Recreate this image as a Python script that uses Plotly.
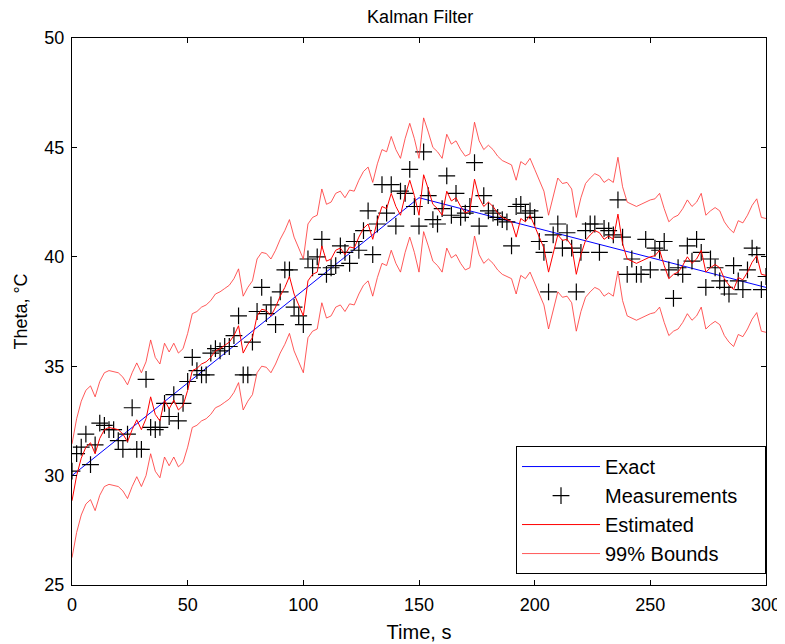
import plotly.graph_objects as go

# =========================
# Data
# =========================
time_s = list(range(0, 301, 2))

exact_t = [0, 150, 300]
exact_theta = [30.0, 42.7, 38.6]

measured = [
    30.2, 31.0, 31.3, 31.9, 30.5, 31.4, 32.4, 32.3, 32.1, 32.1,
    31.6, 31.2, 31.9, 33.1, 31.2, 31.2, 34.4, 32.2, 32.1, 32.2,
    33.3, 32.7, 33.7, 32.5, 33.3, 34.3, 35.4, 34.8, 34.6, 34.6,
    35.6, 35.8, 35.7, 35.9, 35.9, 36.4, 37.3, 34.6, 34.6, 36.1,
    37.5, 38.6, 37.4, 37.8, 36.9, 38.4, 39.4, 39.4, 37.7, 37.3,
    36.9, 39.9, 39.5, 40.0, 40.8, 39.2, 39.5, 39.6, 40.5, 40.2,
    39.7, 40.7, 40.3, 41.2, 42.1, 40.1, 41.5, 43.3, 42.0, 43.3,
    41.4, 43.0, 42.9, 44.0, 42.3, 41.4, 44.8, 42.8, 41.7, 41.5,
    42.2, 43.7, 41.9, 42.9, 41.8, 42.0, 42.3, 44.3, 41.4, 42.8,
    42.1, 42.0, 41.8, 41.7, 41.6, 40.5, 42.3, 42.4, 42.0, 42.1,
    41.8, 40.7, 40.2, 38.4, 41.0, 41.5, 40.4, 41.1, 40.4, 38.4,
    40.2, 41.2, 41.5, 41.5, 40.2, 41.3, 41.2, 41.0, 42.6, 40.9,
    39.2, 39.9, 39.2, 39.2, 40.8, 39.4, 40.4, 40.3, 40.7, 39.4,
    38.1, 39.5, 39.2, 40.5, 39.8, 40.8, 40.2, 38.6, 39.9, 39.5,
    38.9, 38.6, 38.3, 39.6, 38.9, 38.5, 39.4, 40.4, 40.1, 38.5,
    39.1,
]

estimated = [
    28.85, 30.0, 30.8, 31.3, 31.5, 31.0, 31.7, 32.1, 32.2, 32.15,
    32.1, 31.9, 31.55, 32.1, 32.55, 32.1, 32.6, 33.6, 32.8, 32.5,
    33.45, 33.05, 33.45, 33.0, 33.2, 33.9, 34.8, 34.9, 35.1, 35.2,
    35.4, 35.7, 35.8, 35.95, 36.1, 36.4, 36.85, 35.6, 36.0, 36.3,
    37.3, 37.6, 37.55, 37.3, 37.7, 38.2, 38.6, 39.1, 38.3, 37.8,
    37.3, 38.9, 39.2, 39.3, 40.5, 39.8, 39.9, 40.3, 40.4, 40.1,
    40.45, 40.4, 40.9, 41.3, 41.5, 40.8, 41.65, 42.3, 42.2, 42.9,
    42.3, 41.9, 42.8, 43.5, 42.8, 41.9, 43.75, 43.1, 42.4, 42.2,
    41.9, 43.0, 42.55, 42.7, 42.3, 42.0, 42.1, 43.55, 42.7, 42.3,
    42.5, 42.3, 42.0, 41.8, 41.7, 41.6, 40.9, 41.75, 41.6, 41.9,
    41.4, 40.9, 40.4, 39.3, 40.2, 41.0, 40.75, 40.8, 40.5, 39.2,
    40.1, 40.75, 41.0, 41.2, 41.1, 40.8, 40.95, 40.8, 41.95, 40.6,
    39.9, 39.8, 39.7, 39.8, 39.9, 40.0, 40.05, 40.3, 39.6, 39.0,
    39.2, 39.3, 39.6, 40.0, 39.7, 39.9, 40.3, 39.3, 39.5, 39.65,
    39.5, 39.0, 38.7, 38.5, 39.05, 38.95, 39.3, 39.75, 40.05, 39.2,
    39.15,
]

# 99% bounds half-width (2.576 * sigma)
bound_halfwidth = 2.6
upper = [e + bound_halfwidth for e in estimated]
lower = [e - bound_halfwidth for e in estimated]

FONT = "Liberation Sans, Arial, sans-serif"
PAD = "\u00a0" * 4  # widens the legend box like the MATLAB one

fig = go.Figure()

fig.add_trace(go.Scatter(
    x=exact_t, y=exact_theta, mode="lines", name="Exact",
    line=dict(color="#0000ff", width=1), legendgroup="a",
))
fig.add_trace(go.Scatter(
    x=time_s, y=measured, mode="markers", name="Measurements" + PAD,
    marker=dict(symbol="cross-thin", size=12, line=dict(color="black", width=1.2)),
    legendgroup="b",
))
fig.add_trace(go.Scatter(
    x=time_s, y=estimated, mode="lines", name="Estimated",
    line=dict(color="#ff0000", width=1), legendgroup="c",
))
fig.add_trace(go.Scatter(
    x=time_s, y=upper, mode="lines", name="99% Bounds",
    line=dict(color="#ff3030", width=0.8), legendgroup="d",
))
fig.add_trace(go.Scatter(
    x=time_s, y=lower, mode="lines", name="99% Bounds",
    line=dict(color="#ff3030", width=0.8), legendgroup="d", showlegend=False,
))

axis_style = dict(
    showgrid=False, zeroline=False, showline=True, linecolor="black", linewidth=1,
    mirror="ticks", ticks="inside", ticklen=5, tickcolor="black",
    tickfont=dict(family=FONT, size=18, color="black"), ticklabelstandoff=3,
)

# the page body adds an 8px offset, margins are trimmed to compensate
fig.update_layout(
    width=785, height=644,
    margin=dict(l=63, r=26, t=30, b=67),
    paper_bgcolor="white", plot_bgcolor="white",
    title=dict(text="Kalman Filter", x=0.525, xanchor="center", y=0.996, yanchor="top",
               pad=dict(t=0, b=0),
               font=dict(family=FONT, size=18, color="black")),
    xaxis=dict(range=[0, 300], tickvals=[0, 50, 100, 150, 200, 250, 300],
               title=dict(text="Time, s", font=dict(family=FONT, size=20, color="black"), standoff=11),
               **axis_style),
    yaxis=dict(range=[25, 50], tickvals=[25, 30, 35, 40, 45, 50],
               title=dict(text="Theta, °C", font=dict(family=FONT, size=18, color="black"), standoff=12),
               **axis_style),
    legend=dict(
        x=1, xanchor="right", y=0.02, yanchor="bottom",
        bgcolor="white", bordercolor="black", borderwidth=1,
        font=dict(family=FONT, size=20, color="black"),
        itemwidth=78, tracegroupgap=0,
    ),
    showlegend=True,
)

fig.write_html("out.html")
